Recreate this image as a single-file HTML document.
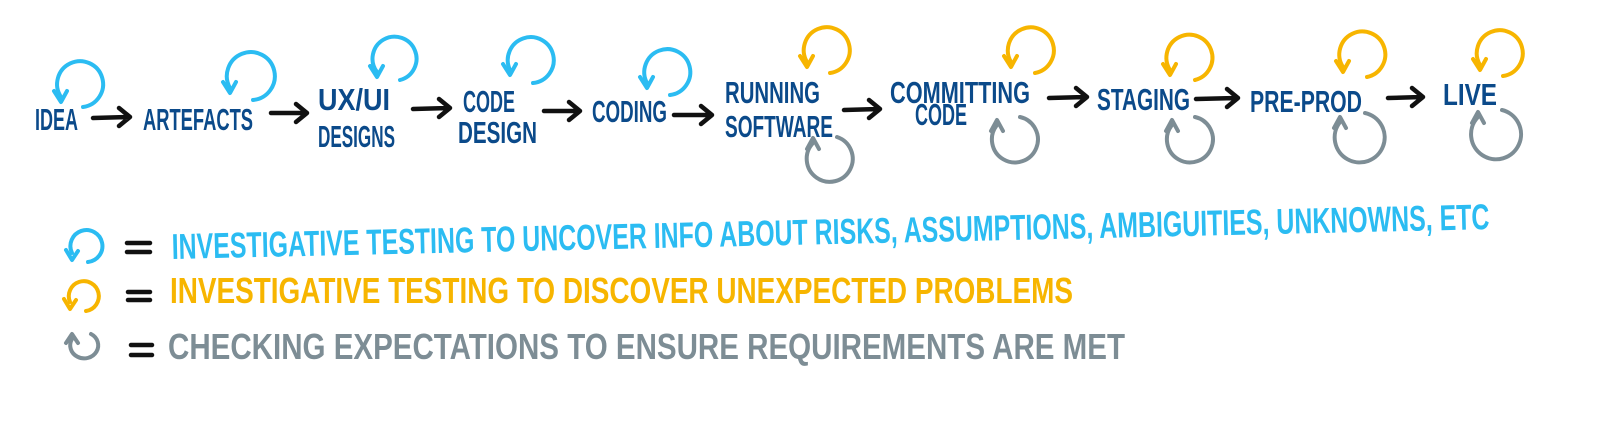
<!DOCTYPE html>
<html><head><meta charset="utf-8"><style>
html,body{margin:0;padding:0;background:#fff;width:1600px;height:434px;overflow:hidden}
svg{display:block}
text{font-family:"Liberation Sans",sans-serif;font-weight:bold}
</style></head><body>
<svg width="1600" height="434" viewBox="0 0 1600 434" xmlns="http://www.w3.org/2000/svg">
<g fill="none" stroke-linecap="round" stroke-linejoin="round" stroke-width="4">
<g stroke="#2bbcf2">
<path d="M83,107 A23,23 0 1 0 61,97"/><path d="M54,91 L61,102 L67,91"/>
<path d="M253,100 A24,24 0 1 0 230,88"/><path d="M223,82 L230,93 L236,82"/>
<path d="M400,80 A22,22 0 1 0 377,72"/><path d="M370,66 L377,77 L383,66"/>
<path d="M533,83 A23,23 0 1 0 510,70"/><path d="M503,64 L510,75 L516,64"/>
<path d="M670,95 A23,23 0 1 0 647,83"/><path d="M640,77 L647,88 L653,77"/>
</g>
<g stroke="#f7b500">
<path d="M830,73 A23,23 0 1 0 807,62"/><path d="M800,56 L807,67 L813,56"/>
<path d="M1035,73 A23,23 0 1 0 1011,62"/><path d="M1004,56 L1011,67 L1017,56"/>
<path d="M1195,80 A23,23 0 1 0 1170,70"/><path d="M1163,64 L1170,75 L1176,64"/>
<path d="M1367,77 A23,23 0 1 0 1343,67"/><path d="M1336,61 L1343,72 L1349,61"/>
<path d="M1503,76 A23,23 0 1 0 1480,65"/><path d="M1473,59 L1480,70 L1486,59"/>
</g>
<g stroke="#7d8d95">
<path d="M837,137 A23,23 0 1 1 813,143"/><path d="M807,149 L813,138 L819,149"/>
<path d="M1020,117 A23,23 0 1 1 997,125"/><path d="M991,131 L997,120 L1003,131"/>
<path d="M1195,117 A23,23 0 1 1 1172,125"/><path d="M1166,131 L1172,120 L1178,131"/>
<path d="M1365,113 A25,25 0 1 1 1340,122"/><path d="M1334,128 L1340,117 L1346,128"/>
<path d="M1502,110 A25,25 0 1 1 1478,117"/><path d="M1472,123 L1478,112 L1484,123"/>
</g>
<g stroke="#111" stroke-width="4.5">
<path d="M93,118 L129,117 M119,108 L130,117 L119,126"/>
<path d="M271,113 L306,113 M296,104 L307,113 L296,122"/>
<path d="M413,109 L449,108 M439,99 L450,108 L439,117"/>
<path d="M544,111 L579,111 M569,102 L580,111 L569,120"/>
<path d="M674,115 L711,115 M701,106 L712,115 L701,124"/>
<path d="M844,110 L879,109 M869,100 L880,109 L869,118"/>
<path d="M1049,98 L1086,97 M1076,88 L1087,97 L1076,106"/>
<path d="M1196,99 L1237,98 M1227,89 L1238,98 L1227,107"/>
<path d="M1388,98 L1422,97 M1412,88 L1423,97 L1412,106"/>
</g>
<path stroke="#2bbcf2" d="M88,262 A16,16 0 1 0 72,253"/><path stroke="#2bbcf2" d="M66,250 L72,260 L78,251"/>
<path stroke="#f7b500" d="M86,311 A15,15 0 1 0 70,302"/><path stroke="#f7b500" d="M64,299 L70,309 L76,300"/>
<path stroke="#7d8d95" d="M91,334 A14,13 0 1 1 72,339"/><path stroke="#7d8d95" d="M66,343 L72,334 L78,343"/>
<g stroke="#111" stroke-width="4.5">
<path d="M127,243 L150,243 M127,252 L150,252"/>
<path d="M128,292 L150,292 M128,300 L150,300"/>
<path d="M131,345 L152,345 M131,355 L152,355"/>
</g>
</g>
<g fill="#0b4a8a" font-size="31">
<text x="35" y="130" textLength="43" lengthAdjust="spacingAndGlyphs">IDEA</text>
<text x="143" y="130" textLength="110" lengthAdjust="spacingAndGlyphs">ARTEFACTS</text>
<text x="318" y="110" textLength="72" lengthAdjust="spacingAndGlyphs">UX/UI</text>
<text x="318" y="147" textLength="77" lengthAdjust="spacingAndGlyphs">DESIGNS</text>
<text x="463" y="112" textLength="52" lengthAdjust="spacingAndGlyphs">CODE</text>
<text x="458" y="143" textLength="79" lengthAdjust="spacingAndGlyphs">DESIGN</text>
<text x="592" y="122" textLength="75" lengthAdjust="spacingAndGlyphs">CODING</text>
<text x="725" y="103" textLength="95" lengthAdjust="spacingAndGlyphs">RUNNING</text>
<text x="725" y="137" textLength="108" lengthAdjust="spacingAndGlyphs">SOFTWARE</text>
<text x="890" y="103" textLength="140" lengthAdjust="spacingAndGlyphs">COMMITTING</text>
<text x="915" y="125" textLength="52" lengthAdjust="spacingAndGlyphs">CODE</text>
<text x="1097" y="110" textLength="93" lengthAdjust="spacingAndGlyphs">STAGING</text>
<text x="1250" y="112" textLength="112" lengthAdjust="spacingAndGlyphs">PRE-PROD</text>
<text x="1443" y="105" textLength="54" lengthAdjust="spacingAndGlyphs">LIVE</text>
</g>
<g font-size="36">
<text x="172" y="259" fill="#2bbcf2" transform="rotate(-1.3 172 259)" textLength="1318" lengthAdjust="spacingAndGlyphs">INVESTIGATIVE TESTING TO UNCOVER INFO ABOUT RISKS, ASSUMPTIONS, AMBIGUITIES, UNKNOWNS, ETC</text>
<text x="170" y="303" fill="#f7b500" textLength="903" lengthAdjust="spacingAndGlyphs">INVESTIGATIVE  TESTING  TO  DISCOVER  UNEXPECTED  PROBLEMS</text>
<text x="168" y="359" fill="#7d8d95" textLength="957" lengthAdjust="spacingAndGlyphs">CHECKING  EXPECTATIONS  TO  ENSURE  REQUIREMENTS ARE MET</text>
</g>
</svg>
</body></html>
